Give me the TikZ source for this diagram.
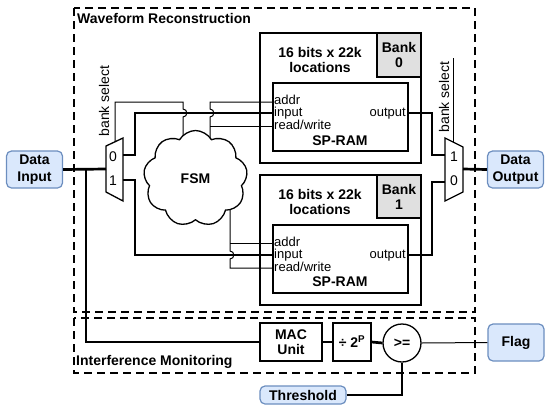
\documentclass[tikz,border=0pt]{standalone}
\usepackage{fontspec}
\setmainfont{Liberation Sans}
\usetikzlibrary{shapes.symbols}
\definecolor{iofill}{HTML}{DAE8FC}
\definecolor{iodraw}{HTML}{6C8EBF}
\definecolor{bankfill}{HTML}{E0E0E0}
\begin{document}
\begin{tikzpicture}[x=1pt,y=-1pt,
  font=\fontsize{14}{14}\selectfont,
  thk/.style={line width=2.7pt},
  thn/.style={line width=1pt},
  box/.style={draw, line width=1.3pt},
  io/.style={draw=iodraw, fill=iofill, rounded corners=5pt, line width=1.2pt,
    font=\fontsize{14}{17}\selectfont\bfseries, align=center, inner sep=0pt},
  dbox/.style={line width=2.8pt, dash pattern=on 8pt off 5pt},
  lbl/.style={inner sep=0pt, font=\fontsize{13}{13}\selectfont},
  bold/.style={font=\fontsize{14}{15}\selectfont\bfseries, align=center, inner sep=0pt}]
\useasboundingbox (0,0) rectangle (550,408);

% dashed regions
\draw[dbox] (74,8) rectangle (475,312);
\draw[dbox] (74,318) rectangle (475,373);
\node[bold, anchor=west] (wr) at (77,18) {Waveform Reconstruction};
\node[bold, anchor=west] (im) at (76,362) {Interference Monitoring};

% I/O nodes
\node[io, minimum width=56pt, minimum height=37pt] (din) at (34.5,169.5) {Data\\Input};
\node[io, minimum width=56pt, minimum height=37pt] (dout) at (515.5,169.5) {Data\\Output};
\node[io, minimum width=56pt, minimum height=37pt] (flag) at (516,342.5) {Flag};
\node[io, minimum width=86pt, minimum height=18pt] (thr) at (303,395) {Threshold};

% RAM bank 0
\draw[box] (260,33) rectangle (421,163);
\draw[box, fill=bankfill] (377,33) rectangle (421,77);
\node[bold] (b0) at (399,55) {Bank\\0};
\node[bold, anchor=base] (sz0) at (320,57) {16 bits x 22k};
\node[bold, anchor=base] (lc0) at (320,72) {locations};
\node[box, minimum width=135pt, minimum height=68pt] (ram0) at (340.5,117) {};
\node[lbl, anchor=base west] (a0) at (274,104) {addr};
\node[lbl, anchor=base west] (i0) at (274,116.5) {input};
\node[lbl, anchor=base west] (r0) at (274,129) {read/write};
\node[lbl, anchor=base east] (o0) at (406,116.5) {output};
\node[bold] (s0) at (340,141) {SP-RAM};

% RAM bank 1
\draw[box] (260,175) rectangle (421,305);
\draw[box, fill=bankfill] (377,175) rectangle (421,218);
\node[bold] (b1) at (399,197) {Bank\\1};
\node[bold, anchor=base] (sz1) at (320,199) {16 bits x 22k};
\node[bold, anchor=base] (lc1) at (320,214) {locations};
\node[box, minimum width=135pt, minimum height=68pt] (ram1) at (340.5,259) {};
\node[lbl, anchor=base west] (a1) at (274,246) {addr};
\node[lbl, anchor=base west] (i1) at (274,258.5) {input};
\node[lbl, anchor=base west] (r1) at (274,271) {read/write};
\node[lbl, anchor=base east] (o1) at (406,258.5) {output};
\node[bold] (s1) at (340,282) {SP-RAM};

% muxes
\draw[line width=1.3pt] (106,146) -- (123,138) -- (123,201) -- (106,192) -- cycle;
\node (m0) at (113,157) {0};
\node (m1) at (113,181) {1};
\draw[line width=1.3pt] (445,138) -- (463,147) -- (463,192) -- (445,201) -- cycle;
\node (n1) at (454,157) {1};
\node (n0) at (454,181) {0};

\node[rotate=90] (bs0) at (104,101) {bank select};
\node[rotate=90] (bs1) at (444,97) {bank select};

% data path
\coordinate (j) at (86,169);
\draw[thk] (din.east) -- (106,169);
\draw[thk] (123,155) -- (135,155) -- (135,113) -- (273,113);
\draw[thk] (123,180) -- (135,180) -- (135,255) -- (273,255);
\draw[thk] (408,113) -- (432,113) -- (432,155) -- (445,155);
\draw[thk] (408,255) -- (432,255) -- (432,182) -- (445,182);
\draw[thk] (463,169) -- (dout.west);

% control lines
\coordinate (selTop) at (453,58);
\draw[thn] (453,142) -- (selTop);
\draw[thn] (115,142) -- (115,102) -- (183,102) -- (183,109)
  .. controls (188,109) and (188,117) .. (183,117) -- (183,145);
\draw[thn] (210,150) -- (210,117) .. controls (215,117) and (215,109) .. (210,109)
  -- (210,102) -- (273,102);
\draw[thn] (210,126) -- (273,126);
\draw[thn] (230,200) -- (230,251) .. controls (235,251) and (235,259) .. (230,259)
  -- (230,268) -- (273,268);
\draw[thn] (230,243) -- (273,243);

% FSM
\node[cloud, cloud puffs=9, cloud puff arc=120, draw, line width=1.3pt, fill=white,
  minimum width=104pt, minimum height=96pt, cloud ignores aspect,
  font=\fontsize{14}{15}\selectfont\bfseries] (fsm) at (195.5,178.5) {FSM};

% interference monitoring
\node[box, minimum width=62pt, minimum height=38pt, bold] (mac) at (291,342) {MAC\\Unit};
\node[box, minimum width=38pt, minimum height=38pt, bold] (div) at (352,342) {÷ 2\textsuperscript{P}};
\node[circle, draw, line width=1.3pt, minimum size=38pt, inner sep=0pt,
  font=\fontsize{14}{15}\selectfont\bfseries] (cmp) at (402,343) {>=};
\draw[thk] (j) -- (86,342) -- (mac.west);
\draw[thk] (mac.east) -- (div.west);
\draw[thk] (div.east) -- (cmp.west);
\draw[thn] (cmp.east) -- (flag.west);
\draw[thk] (thr.east) -- (cmp.south |- thr.east) -- (cmp.south);
\end{tikzpicture}
\end{document}
